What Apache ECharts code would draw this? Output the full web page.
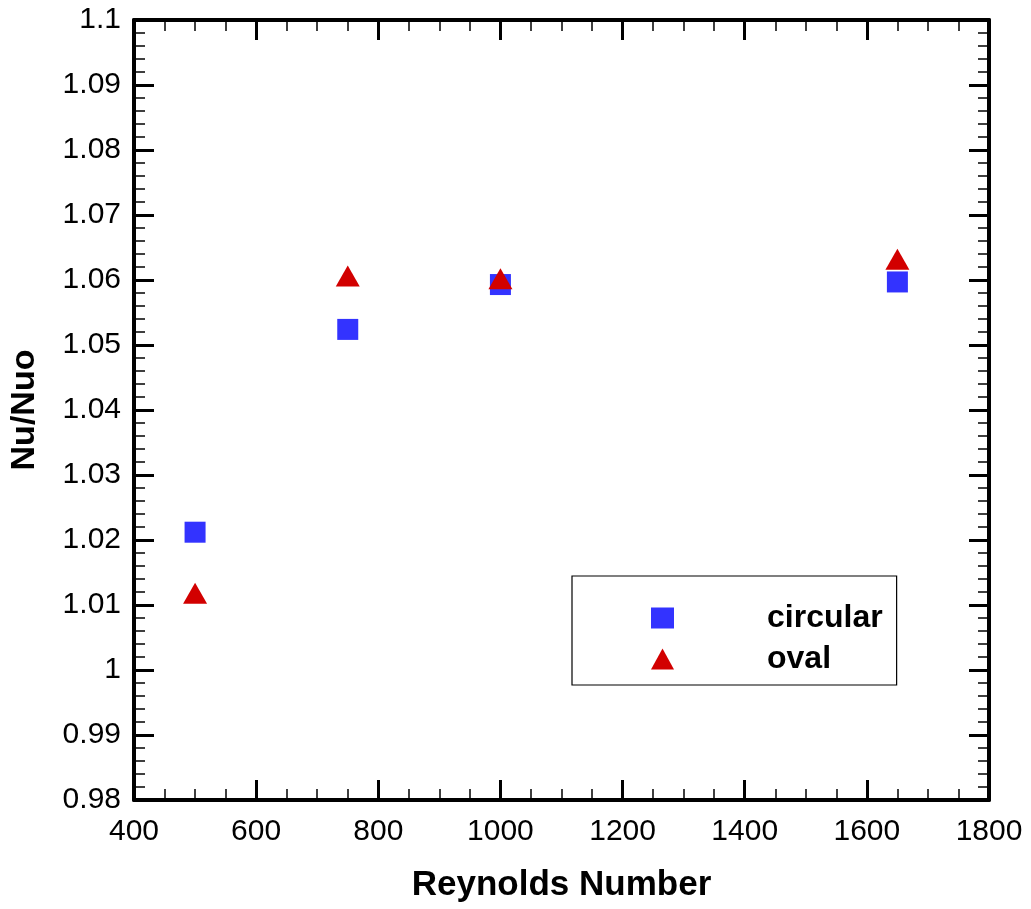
<!DOCTYPE html>
<html><head><meta charset="utf-8">
<script src="https://cdn.jsdelivr.net/npm/echarts@6/dist/echarts.min.js"></script>
<style>html,body{margin:0;padding:0;background:#fff}#c{width:1031px;height:909px}</style>
</head><body><div id="c"></div>
<script>
const reynolds = [500, 750, 1000, 1650];
const circular = [1.0212, 1.0524, 1.0593, 1.0597];
const oval = [1.0118, 1.0606, 1.0602, 1.0632];
const seriesNames = ['circular', 'oval'];

const FONT = '"Liberation Sans", Arial, sans-serif';
const chart = echarts.init(document.getElementById('c'));
const tick = {show: true, inside: true, length: 20, lineStyle: {color: '#000', width: 3}};
const lineS = {show: true, lineStyle: {color: '#000', width: 4}};
function xAx(pos, labels) {
  return {
    type: 'value', position: pos, min: 400, max: 1800, interval: 200,
    axisLine: lineS, axisTick: tick,
    minorTick: {show: true, splitNumber: 4, length: 11, lineStyle: {color: '#000', width: 1.5}},
    splitLine: {show: false},
    axisLabel: {show: labels, fontFamily: FONT, fontSize: 30, color: '#000', margin: 17,
      formatter: v => String(v)},
    name: labels ? 'Reynolds Number' : '', nameLocation: 'middle', nameGap: 68,
    nameTextStyle: {fontFamily: FONT, fontSize: 35, fontWeight: 'bold', color: '#000'}
  };
}
function yAx(pos, labels) {
  return {
    type: 'value', position: pos, min: 0.98, max: 1.1, interval: 0.01,
    axisLine: lineS, axisTick: tick,
    minorTick: {show: true, splitNumber: 5, length: 11, lineStyle: {color: '#000', width: 1.5}},
    splitLine: {show: false},
    axisLabel: {show: labels, fontFamily: FONT, fontSize: 30, color: '#000', margin: 13},
    name: labels ? 'Nu/Nuo' : '', nameLocation: 'middle', nameGap: 92,
    nameTextStyle: {fontFamily: FONT, fontSize: 34, fontWeight: 'bold', color: '#000'}
  };
}
chart.setOption({
  animation: false,
  grid: {left: 134, top: 20, right: 42, bottom: 109, containLabel: false},
  xAxis: [xAx('bottom', true), xAx('top', false)],
  yAxis: [yAx('left', true), yAx('right', false)],
  legend: {
    orient: 'vertical', left: 572, top: 576,
    padding: [26, 14, 10, 79], itemGap: 9, itemWidth: 23, itemHeight: 21,
    borderColor: '#000', borderWidth: 1.2,
    textStyle: {fontFamily: FONT, fontSize: 32, fontWeight: 'bold', color: '#000', padding: [0, 0, 0, 88]},
    data: [{name: seriesNames[0], icon: 'rect'}, {name: seriesNames[1], icon: 'triangle'}]
  },
  series: [
    {name: seriesNames[0], type: 'scatter', symbol: 'rect', symbolSize: 21,
     itemStyle: {color: '#3333ff', opacity: 1},
     data: reynolds.map((r, i) => [r, circular[i]])},
    {name: seriesNames[1], type: 'scatter', symbol: 'triangle', symbolSize: [24, 21],
     itemStyle: {color: '#d20000', opacity: 1},
     data: reynolds.map((r, i) => [r, oval[i]])}
  ]
});
</script></body></html>
